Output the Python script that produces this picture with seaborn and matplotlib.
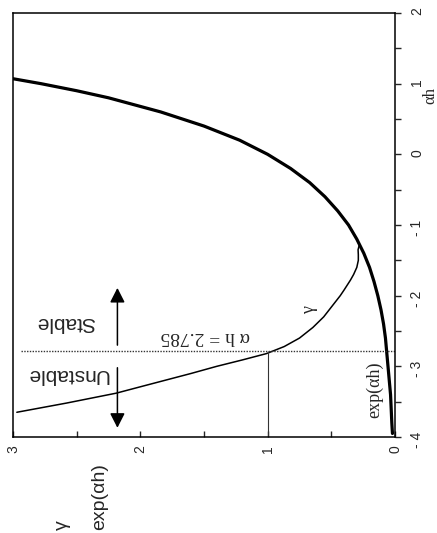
import numpy as np
import pandas as pd
import matplotlib
matplotlib.use('Agg')
import matplotlib.pyplot as plt
from matplotlib.ticker import MultipleLocator
import seaborn as sns

sns.set_style('white')
plt.rcParams['font.family'] = ['Liberation Sans', 'DejaVu Sans']
SERIF = ['Liberation Serif', 'DejaVu Serif']

ah_exp = [-3.95, -3.8, -3.6, -3.4, -3.2, -3.0, -2.8, -2.6, -2.4, -2.2, -2.0, -1.8,
          -1.6, -1.4, -1.2, -1.0, -0.8, -0.6, -0.4, -0.2, 0.0, 0.2, 0.4, 0.6,
          0.8, 0.9, 1.0, 1.07]
exp_vals = [0.02, 0.025, 0.03, 0.035, 0.045, 0.055, 0.065, 0.075, 0.09, 0.11, 0.135, 0.165,
            0.20, 0.245, 0.30, 0.365, 0.45, 0.55, 0.67, 0.82, 1.00, 1.22, 1.50, 1.84,
            2.25, 2.50, 2.78, 3.0]

ah_gamma = [-3.65, -3.52, -3.38, -3.28, -3.19, -3.10, -3.00, -2.91, -2.82, -2.72,
            -2.60, -2.45, -2.30, -2.15, -2.00, -1.92, -1.85, -1.78, -1.70, -1.60,
            -1.50, -1.42, -1.35, -1.28, -1.2, -1.0, -0.8, -0.6, -0.4, -0.2, 0.0,
            0.2, 0.4, 0.6, 0.8, 0.9, 1.0, 1.07]
gamma_vals = [2.97, 2.58, 2.19, 1.98, 1.79, 1.60, 1.40, 1.20, 1.01, 0.87,
              0.75, 0.645, 0.56, 0.495, 0.43, 0.40, 0.375, 0.35, 0.325, 0.30,
              0.288, 0.288, 0.29, 0.28, 0.30, 0.365, 0.45, 0.55, 0.67, 0.82, 1.00,
              1.22, 1.50, 1.84, 2.25, 2.50, 2.78, 3.0]

ah_crit = -2.785
ah_ticks = [-4, -3, -2, -1, 0, 1, 2]
ah_ticklabels = ['- 4', '- 3', '- 2', '- 1', '0', '1', '2']
val_ticks = [0, 1, 2, 3]

df_exp = pd.DataFrame({'ah': ah_exp, 'val': exp_vals})
df_gam = pd.DataFrame({'ah': ah_gamma, 'val': gamma_vals})

W, H = 437, 533
fig = plt.figure(figsize=(W / 100, H / 100), dpi=100)
ax = fig.add_axes([13 / W, 96 / H, 382 / W, 424 / H])

# drawn as it appears on the page (turned a quarter turn)
sns.lineplot(data=df_exp, x='val', y='ah', orient='y', estimator=None,
             color='black', lw=2.3, ax=ax)
sns.lineplot(data=df_gam, x='val', y='ah', orient='y', estimator=None,
             color='black', lw=1.1, ax=ax)

ax.axhline(ah_crit, xmin=0.02, xmax=1, color='#333333', lw=1.0, ls=(0, (1, 1)))
ax.vlines(1, -4, ah_crit, color='#333333', lw=0.8)

ax.set_xlim(3, 0)
ax.set_ylim(-4, 2)
ax.set_xlabel('')
ax.set_ylabel('')

ax.yaxis.tick_right()
ax.set_yticks(ah_ticks)
ax.set_yticklabels(ah_ticklabels, rotation=90)
ax.yaxis.set_minor_locator(MultipleLocator(0.5))
ax.tick_params(axis='y', which='both', direction='out', right=True, left=False,
               length=4, width=1, pad=7, labelsize=10)

ax.set_xticks(val_ticks)
ax.set_xticklabels([str(v) for v in val_ticks], rotation=90)
ax.xaxis.set_minor_locator(MultipleLocator(0.5))
ax.tick_params(axis='x', which='both', direction='in', bottom=True,
               length=4, width=1, pad=6, labelsize=10)

for s in ax.spines.values():
    s.set_linewidth(1.1)
    s.set_color('black')

# arrows + texts
arrow = dict(arrowstyle='-|>,head_length=0.55,head_width=0.28', lw=1.1,
             color='black', mutation_scale=16, shrinkA=0, shrinkB=0)
ax.annotate('', xy=(2.18, -1.89), xytext=(2.18, -2.70), arrowprops=arrow)
ax.annotate('', xy=(2.18, -3.87), xytext=(2.18, -3.02), arrowprops=arrow)

ax.text(2.585, -2.385, 'Stable', rotation=180, ha='center', va='center', fontsize=15)
ax.text(2.577, -3.12, 'Unstable', rotation=180, ha='center', va='center', fontsize=15)
ax.text(1.49, -2.58, 'α h = 2.785', rotation=180, ha='center', va='center',
        fontsize=14, family=SERIF)
ax.text(0.157, -3.33, 'exp(αh)', rotation=90, ha='center', va='center',
        fontsize=13, family=SERIF)
ax.text(0.67, -2.2, 'γ', rotation=90, ha='center', va='center',
        fontsize=13, family=SERIF)

fig.text(430 / W, 1 - 95 / H, 'αh', rotation=90, ha='center', va='center',
         fontsize=12, family=SERIF)
fig.text(62 / W, 1 - 525 / H, 'γ', rotation=90, ha='center', va='center', fontsize=14)
fig.text(100 / W, 1 - 497 / H, 'exp(αh)', rotation=90, ha='center', va='center',
         fontsize=14)

fig.savefig('out.png', dpi=100)
